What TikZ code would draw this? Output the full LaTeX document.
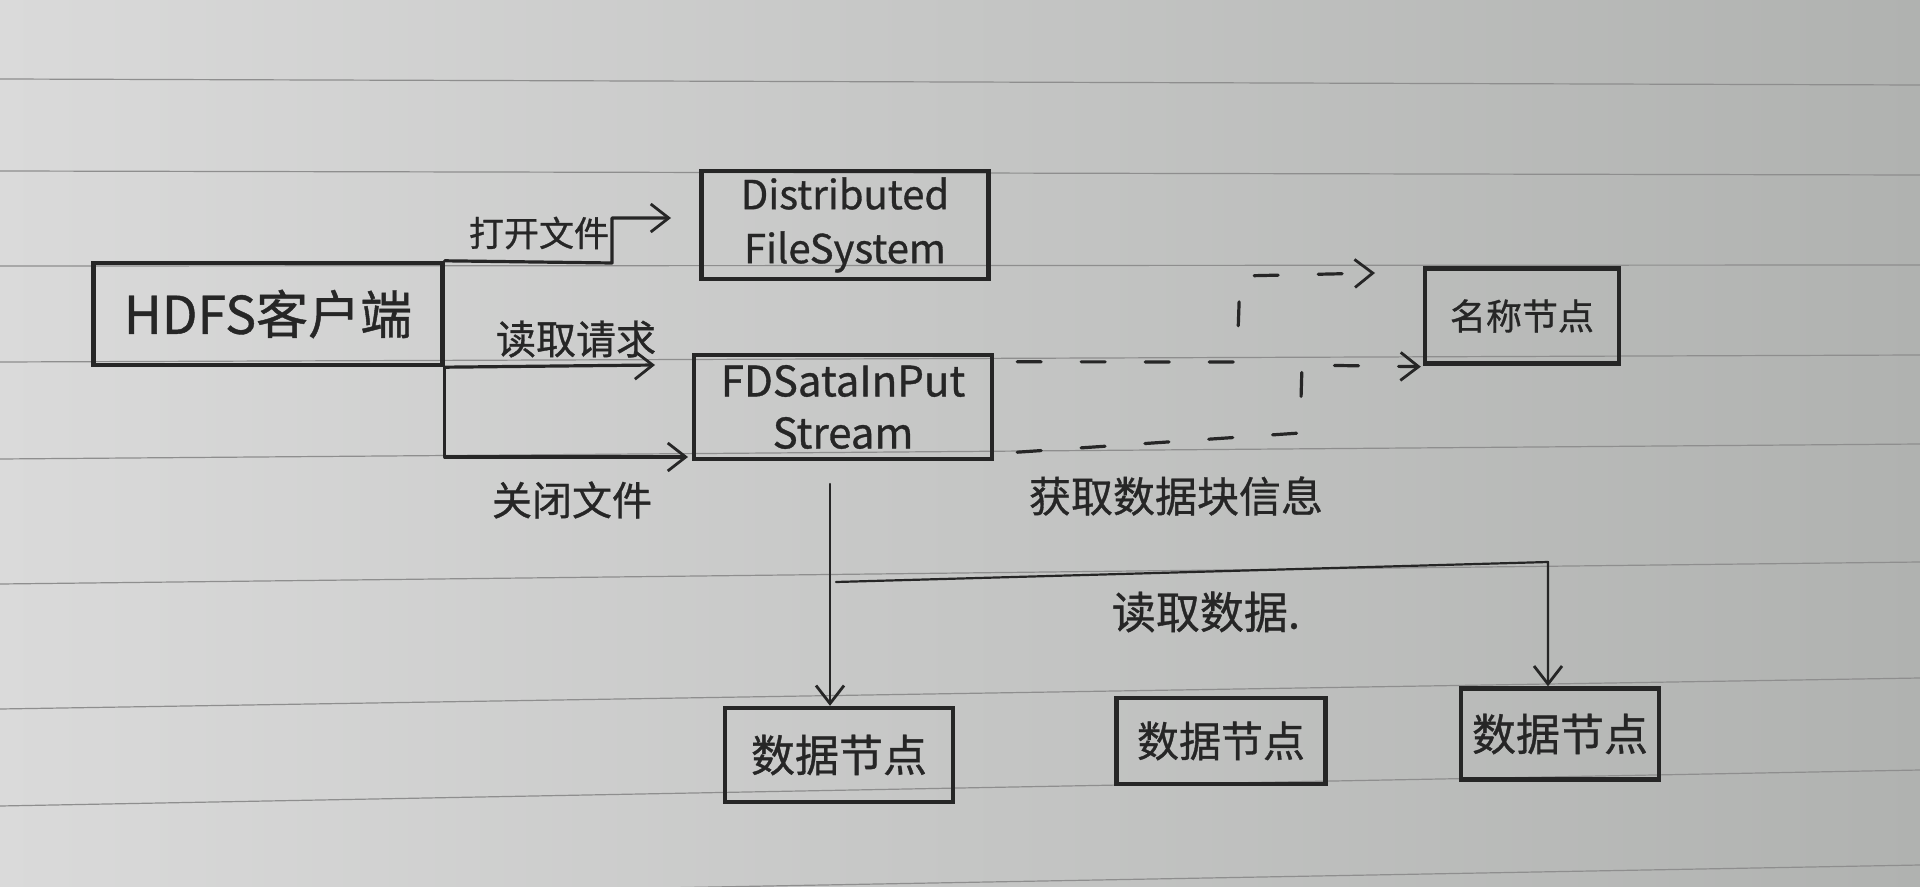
\documentclass[tikz,border=0pt]{standalone}
\usepackage{fontspec}
\newfontfamily\cjk{Noto Sans CJK SC}[FakeBold=0.8]
\usetikzlibrary{arrows.meta,calc}
\definecolor{ink}{HTML}{262626}
\definecolor{paperL}{HTML}{DADADA}
\definecolor{paperR}{HTML}{B0B2B0}
\definecolor{rulecol}{HTML}{8E8E8E}
\begin{document}
\begin{tikzpicture}[x=0.5pt,y=-0.5pt,
  box/.style={draw=ink, line width=2.2pt, inner sep=0pt, font=\cjk, text=ink, align=center},
  lbl/.style={font=\cjk, text=ink, inner sep=0pt},
  conn/.style={draw=ink, line width=1.6pt, line cap=round, line join=round,
    -{Straight Barb[length=9pt,width=14pt,line width=1.4pt]}},
  dconn/.style={conn, dash pattern=on 12pt off 20pt},
  thinconn/.style={conn, line width=1.1pt}
]
\useasboundingbox (0,0) rectangle (1920,887);
\shade[left color=paperL, right color=paperR] (0,0) rectangle (1920,887);
% ruled lines of the paper
\foreach \a/\b in {79/85,171/175,266/265,362/355,459/444,584/562,709/678,806/770,900/865}
  \draw[rulecol, line width=0.6pt] (0,\a) -- (1920,\b);

% nodes
\node[box, minimum width=174.5pt, minimum height=51pt, font=\cjk\fontsize{26}{30}\selectfont] (hdfs) at (268,314) {HDFS客户端};
\node[box, minimum width=143.5pt, minimum height=54pt, font=\cjk\fontsize{20}{27}\selectfont] (dfs) at (845,225) {Distributed\\FileSystem};
\node[box, minimum width=149pt, minimum height=52pt, font=\cjk\fontsize{21}{26}\selectfont] (fds) at (843,407) {FDSataInPut\\Stream};
\node[box, minimum width=97pt, minimum height=47.5pt, font=\cjk\fontsize{18}{22}\selectfont] (nn) at (1522,316) {名称节点};
\node[box, minimum width=114pt, minimum height=47pt, font=\cjk\fontsize{22}{26}\selectfont] (d1) at (839,755) {数据节点};
\node[box, minimum width=104.5pt, minimum height=43pt, font=\cjk\fontsize{21}{25}\selectfont] (d2) at (1221,741) {数据节点};
\node[box, minimum width=99pt, minimum height=45.5pt, font=\cjk\fontsize{22}{26}\selectfont] (d3) at (1560,734) {数据节点};

% labels
\node[lbl, font=\cjk\fontsize{17.5}{20}\selectfont] (lopen) at (539,233) {打开文件};
\node[lbl, font=\cjk\fontsize{20}{24}\selectfont] (lread) at (576,339) {读取请求};
\node[lbl, font=\cjk\fontsize{20}{24}\selectfont] (lclose) at (572,500) {关闭文件};
\node[lbl, font=\cjk\fontsize{21}{24}\selectfont] (lget) at (1176,496) {获取数据块信息};
\node[lbl, font=\cjk\fontsize{22}{26}\selectfont] (ldata) at (1206,612) {读取数据.};

% connectors from client
\coordinate (o1) at (612,263);
\coordinate (o2) at (612,218);
\coordinate (oe) at (671,218);
\draw[conn] (hdfs.north east) -- (o1) -- (o2) -- (oe);
\coordinate (re) at (655,365);
\draw[conn] (hdfs.south east) -- (re);
\coordinate (ce) at (688,457);
\draw[conn] (hdfs.south east) -- (hdfs.south east |- ce) -- (ce);

% dashed connectors to name node
\coordinate (u1) at (1237,362);
\coordinate (u2) at (1240,276);
\coordinate (ue) at (1375,273);
\draw[dconn] ($(fds.north east)+(23,9)$) -- (u1) -- (u2) -- (ue);
\coordinate (l1) at (1300,433);
\coordinate (l2) at (1302,365);
\draw[dconn] ($(fds.south east)+(23,-9)$) -- (l1) -- (l2) -- ($(nn.south west)+(-2,1)$);

% reading data
\coordinate (v0) at (830,484);
\draw[thinconn] (v0) -- (v0 |- d1.north);
\coordinate (b0) at (836,582);
\coordinate (b1) at (1548,562);
\draw[thinconn] (b0) -- (b1) -- (b1 |- d3.north);
\end{tikzpicture}
\end{document}
